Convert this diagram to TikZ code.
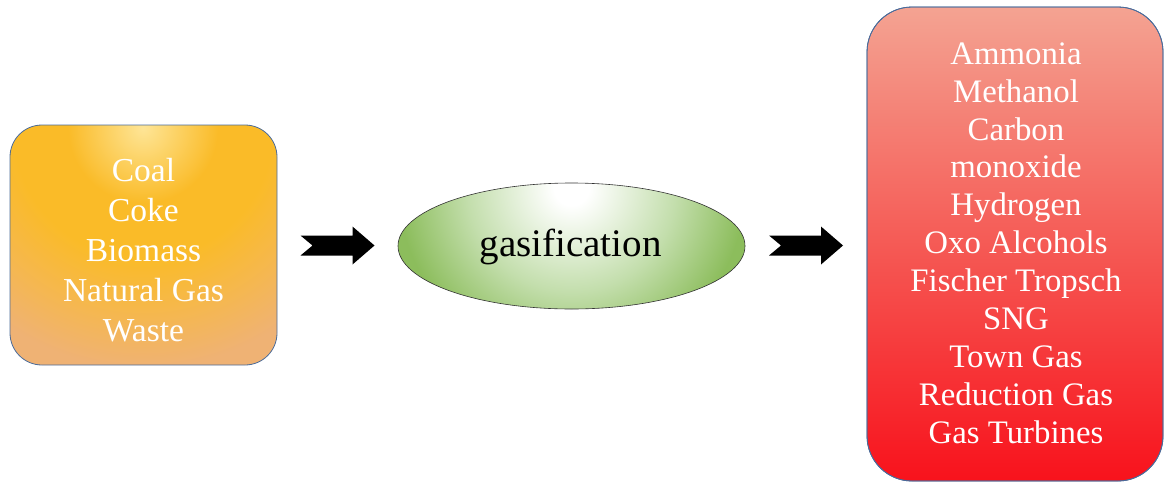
\documentclass[tikz,border=0pt]{standalone}
\usepackage{fontspec}
\setmainfont{Liberation Serif}
\usetikzlibrary{calc}
\definecolor{boxborder}{HTML}{4A6B9A}
\definecolor{gasgreen}{HTML}{8CBD5C}
\definecolor{gasmid}{HTML}{C3DEAC}
\definecolor{orglow}{HTML}{FEE596}
\definecolor{orgmain}{HTML}{FABB28}
\definecolor{orgmid}{HTML}{F6B84A}
\definecolor{orgbot}{HTML}{EFB274}
\definecolor{redtop}{HTML}{F4A392}
\definecolor{redmid}{HTML}{F55A55}
\definecolor{redbot}{HTML}{F8121C}
\pgfdeclareradialshading{gasglow}{\pgfpoint{0bp}{0bp}}{%
  color(0bp)=(white); color(2.5bp)=(white); color(15bp)=(gasmid); color(25bp)=(gasgreen); color(100bp)=(gasgreen)}
\pgfdeclareradialshading{orangeglow}{\pgfpoint{0bp}{0bp}}{%
  color(0bp)=(orglow); color(3bp)=(orglow!60!orgmain); color(7.5bp)=(orgmain); color(13bp)=(orgmain); color(18bp)=(orgmid); color(24bp)=(orgbot); color(100bp)=(orgbot)}
\tikzset{
  listbox/.style={rounded corners=#1, draw=boxborder, line width=0.8pt},
  listtext/.style={text=white, align=center, inner sep=0pt},
  blockarrow/.style={fill=black}
}
\newcommand\flowarrow[1]{%
  \fill[blockarrow] ($(#1)+(-37,-10)$) -- ($(#1)+(15,-10)$) -- ($(#1)+(15,-19)$) -- ($(#1)+(37,0)$) -- ($(#1)+(15,19)$) -- ($(#1)+(15,10)$) -- ($(#1)+(-37,10)$) -- ($(#1)+(-25,0)$) -- cycle;}
\begin{document}
\begin{tikzpicture}[x=1pt,y=-1pt]
\useasboundingbox (0,0) rectangle (1164,482);
% left box
\begin{scope}
  \clip[rounded corners=32] (10,125) rectangle (277,365);
  \shade[shading=orangeglow] (-107,-122) rectangle (393,378);
\end{scope}
\draw[listbox=32] (10,125) rectangle (277,365);
\coordinate (srcW) at (10,245);
\coordinate (srcE) at (277,245);
\node[listtext, font=\fontsize{33.5}{40}\selectfont] (srctext) at (143.5,250) {Coal\\Coke\\Biomass\\Natural Gas\\Waste};
% ellipse
\begin{scope}
  \clip (571.5,246) ellipse [x radius=173.5, y radius=63];
  \shade[shading=gasglow] (398,14.5) rectangle (745,361.5);
\end{scope}
\draw[draw=black!80, line width=0.6pt] (571.5,246) ellipse [x radius=173.5, y radius=63];
\coordinate (gasW) at (398,246);
\coordinate (gasE) at (745,246);
\node[font=\fontsize{39}{44}\selectfont, inner sep=0pt] (gas) at (570.5,247) {gasification};
% right box
\shade[top color=redtop, bottom color=redbot, middle color=redmid, listbox=45] (867,7) rectangle (1163,481);
\draw[listbox=45] (867,7) rectangle (1163,481);
\coordinate (prodW) at (867,245);
\node[listtext, font=\fontsize{32.8}{37.9}\selectfont] (prodtext) at (1016,243) {Ammonia\\Methanol\\Carbon\\monoxide\\Hydrogen\\Oxo Alcohols\\Fischer Tropsch\\SNG\\Town Gas\\Reduction Gas\\Gas Turbines};
% arrows
\coordinate (a1) at ($(srcE)!0.5!(gasW)$);
\coordinate (a2) at ($(gasE)!0.5!(prodW)$);
\flowarrow{a1}
\flowarrow{a2}
\end{tikzpicture}
\end{document}
